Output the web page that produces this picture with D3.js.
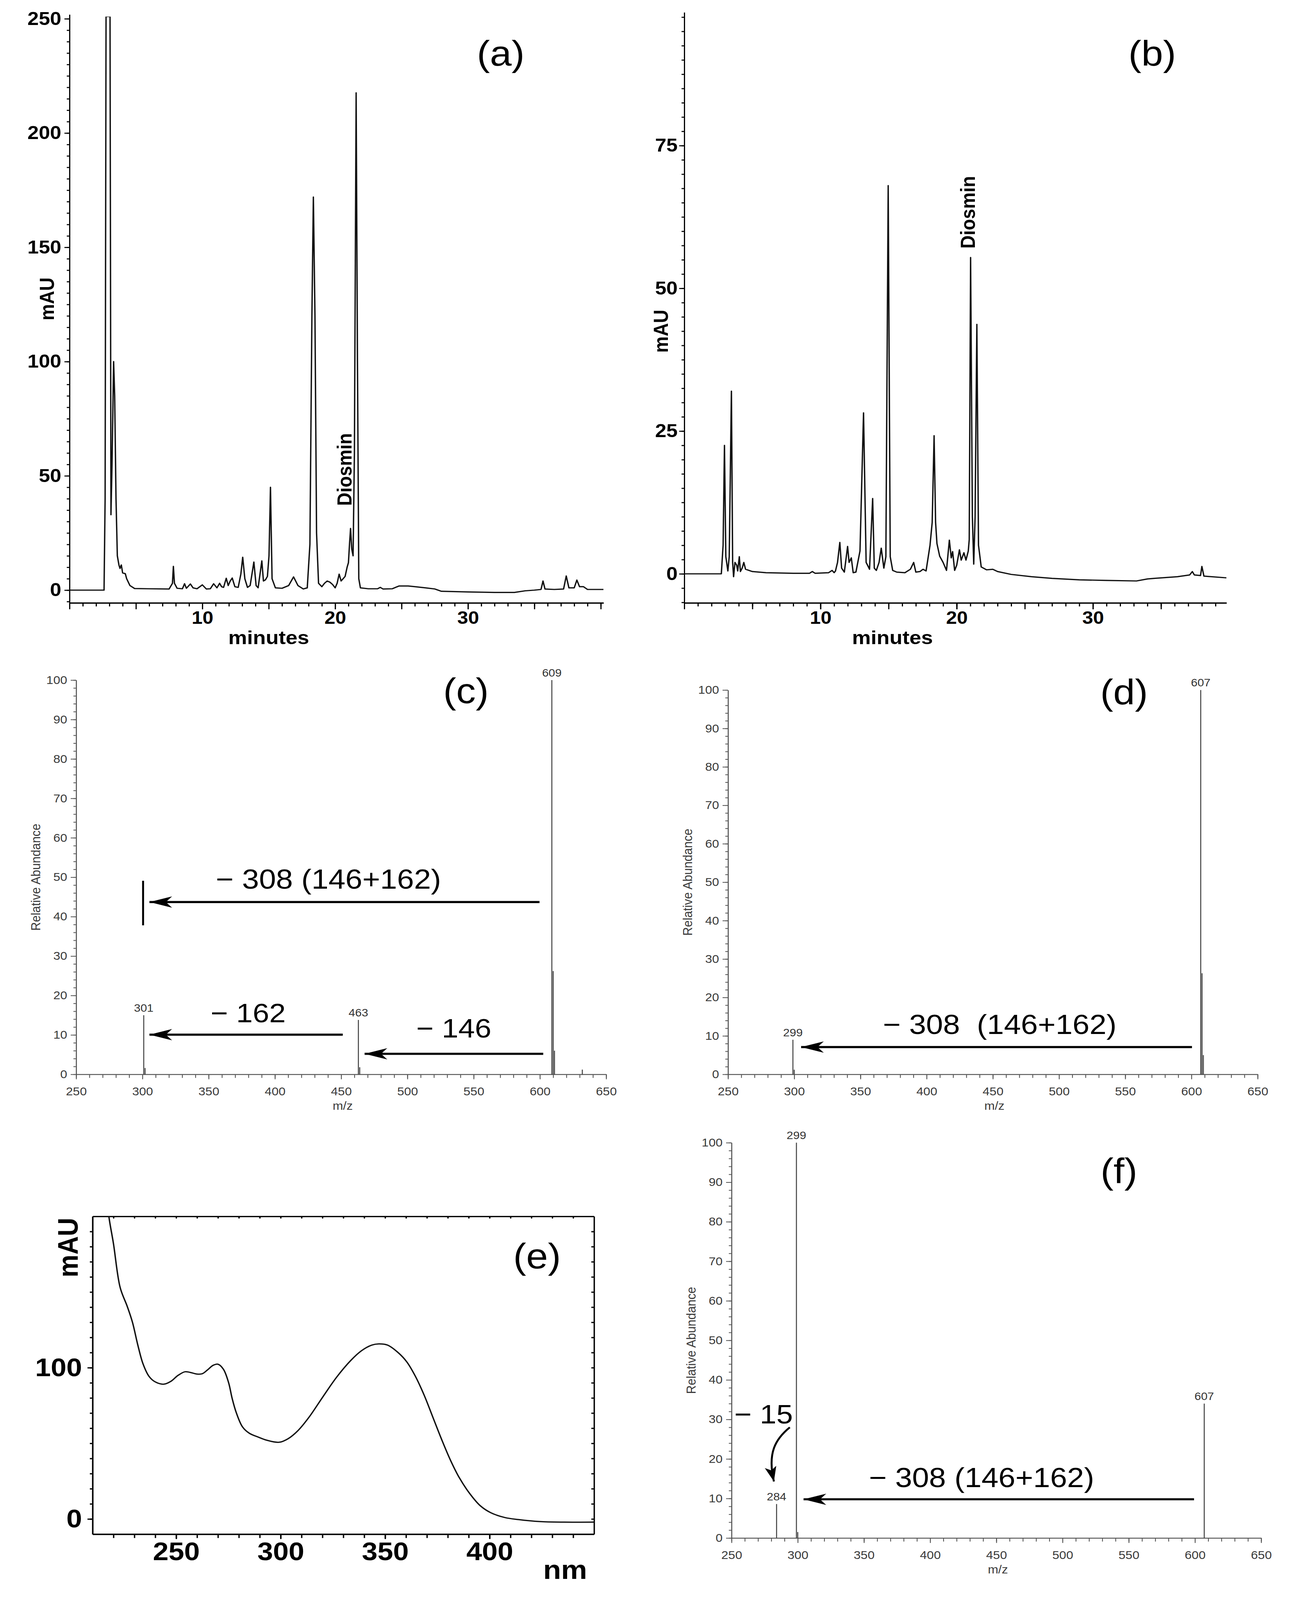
<!DOCTYPE html>
<html><head><meta charset="utf-8">
<script src="https://cdn.jsdelivr.net/npm/d3@7"></script>
<style>html,body{margin:0;padding:0;background:#fff;overflow:hidden}#fig{display:block;width:100vw;height:100vh}</style>
</head><body>
<svg id="fig" viewBox="0 0 3331 4517" preserveAspectRatio="none" xmlns="http://www.w3.org/2000/svg"></svg>
<script>
// ---------------- DATA ----------------
// (a) HPLC chromatogram, [minutes, mAU]
const traceA = [[0,0],[2.6,0],[2.68,40],[2.75,251],[3.05,251],[3.12,33],[3.2,55],[3.32,100],[3.4,85],[3.5,40],[3.6,15],[3.72,11],[3.8,9.5],[3.9,11],[4.0,7.5],[4.2,7.2],[4.3,5],[4.55,2],[4.9,0.7],[6,0.6],[7.5,0.5],[7.75,3],[7.82,10.4],[7.9,3],[8.1,0.8],[8.5,0.6],[8.66,2.8],[8.8,0.8],[9.1,2.7],[9.3,1],[9.6,0.6],[10,2.3],[10.3,0.5],[10.6,0.6],[10.85,2.8],[11.1,1],[11.3,3],[11.45,1.5],[11.6,1.2],[11.8,5.2],[11.95,2],[12.1,4],[12.25,5.3],[12.45,1.5],[12.7,1.2],[12.9,7],[13.04,14.4],[13.2,5],[13.4,1.2],[13.6,2],[13.88,12.3],[14.05,2],[14.2,1],[14.48,12.8],[14.6,4],[14.75,4.5],[14.9,6],[15.02,15],[15.13,45],[15.25,5],[15.5,1],[16,0.8],[16.5,2],[16.87,5.8],[17.2,2],[17.6,0.5],[17.9,1],[18.1,20],[18.25,120],[18.36,172],[18.48,120],[18.6,25],[18.75,3],[19.0,1.5],[19.2,3],[19.4,4],[19.6,3.5],[19.8,2.5],[20.0,1],[20.15,3],[20.3,7],[20.45,4],[20.6,5],[20.75,6],[20.9,10],[21.0,12],[21.08,20],[21.16,27],[21.25,18],[21.35,15],[21.45,60],[21.58,217.6],[21.68,100],[21.78,5],[21.9,1],[22.5,0.6],[23.2,0.6],[23.4,1.2],[23.6,0.5],[24.3,0.6],[24.8,1.8],[25.5,1.8],[26,1.5],[26.8,1],[27.5,0.5],[28,-0.5],[30,-0.8],[32,-1],[33.5,-1],[34.3,-0.3],[35,0],[35.5,0.3],[35.65,4],[35.8,0.5],[36.5,0.3],[37.2,0.5],[37.4,6.2],[37.6,1],[38.0,1],[38.2,4.4],[38.4,1.5],[38.7,1.5],[39,0.3],[40.2,0.3]];

// (b) HPLC chromatogram, [minutes, mAU]
const traceB = [[0,0],[2.72,0],[2.85,5],[2.95,22.5],[3.05,3],[3.2,0.5],[3.3,3],[3.46,32],[3.55,2],[3.62,-0.5],[3.72,2],[3.85,1.5],[3.92,0.5],[4.04,3],[4.12,0.4],[4.25,1],[4.37,2],[4.5,0.8],[5,0.4],[6,0.2],[8,0.1],[9.2,0.1],[9.4,0.4],[9.6,0.1],[10.6,0.2],[10.85,0.6],[11.0,0.2],[11.1,0.5],[11.25,2],[11.42,5.5],[11.55,1],[11.75,0.3],[11.99,4.8],[12.1,2],[12.26,2.8],[12.4,0.2],[12.6,0.3],[12.9,4],[13.16,28.2],[13.35,2],[13.5,1.3],[13.6,0.8],[13.83,13.2],[13.95,1],[14.1,0.6],[14.3,2],[14.46,4.5],[14.65,1],[14.8,3],[14.97,68],[15.12,3],[15.3,0.6],[15.6,0.3],[16.2,0.2],[16.6,0.8],[16.84,2],[17.0,0.3],[17.3,0.4],[17.53,0.8],[17.75,0.5],[18.04,5],[18.2,9],[18.34,24.2],[18.45,9],[18.55,5.3],[18.75,3.1],[19.0,2],[19.25,0.6],[19.46,5.9],[19.6,2.8],[19.7,3.9],[19.85,0.6],[20.0,1.5],[20.2,4.2],[20.33,2.4],[20.53,3.7],[20.68,2.4],[20.85,4.0],[20.92,6],[21.02,55.4],[21.15,10],[21.25,1.7],[21.35,10],[21.48,43.7],[21.6,5],[21.8,1.2],[22.2,0.7],[22.65,0.8],[23,0.4],[24,-0.1],[25.5,-0.5],[27,-0.8],[29,-1.05],[31,-1.15],[33.2,-1.25],[34,-0.9],[34.5,-0.8],[36.2,-0.5],[37.1,-0.2],[37.3,0.4],[37.45,-0.2],[37.9,-0.3],[38.0,1.3],[38.15,-0.4],[39.8,-0.7]];

// (e) UV spectrum, [nm, mAU]
const uvE = [[216.8,215],[217.8,200],[220,182],[223.2,153],[226.6,140.5],[229.1,130],[231.6,115.3],[234.1,102.7],[237,94.3],[240,90.6],[244.1,89.1],[247.5,91],[250.8,94.8],[254.2,97.3],[256.7,96.9],[260,95.8],[262.5,96],[265,98.5],[267.6,101.5],[270,102.3],[272.6,99],[275.1,90.1],[276.8,79.7],[278.8,70.2],[281.8,60.8],[285.1,56.6],[289.3,54.1],[293.5,52],[299.3,50.7],[303.5,53],[308.5,58.7],[313.5,67.1],[320.2,80.7],[326.9,93.9],[333.6,104.8],[338.6,111.1],[343.6,114.9],[347,115.7],[351.2,114.9],[356.2,110],[360.4,103.8],[364.5,94.3],[368.7,81.8],[372.9,67.1],[377.1,52.4],[381.3,38.8],[385.5,27.3],[390.5,16.8],[395.5,8.8],[400.5,4.2],[407.2,1],[413.9,-0.4],[423.9,-1.7],[435.6,-2.1],[450,-2.1]];

// Mass spectra, [m/z, relative abundance %]
const peaksC = [[301,15.0],[302,1.6],[463,13.8],[464,1.8],[609,100],[610,26.2],[611,6],[632,1.2]];
const peaksD = [[299,9.0],[300,1.2],[607,100],[608,26.3],[609,5]];
const peaksF = [[284,8.6],[299,100],[300,1.5],[607,34]];
const labelsC = [301,463,609];
const labelsD = [299,607];
const labelsF = [284,299,607];

// Tick labels
const ticksMinutes = [10,20,30];
const ticksA = [0,50,100,150,200,250];
const ticksB = [0,25,50,75];
const ticksMz = [250,300,350,400,450,500,550,600,650];
const ticksAbund = [0,10,20,30,40,50,60,70,80,90,100];
const ticksNm = [250,300,350,400];
const ticksE = [0,100];

// Annotations (data units)
const arrowsC = [{from:599.7,to:305.3,y:43.7},{from:451.2,to:305.3,y:10.06},{from:602.5,to:467.7,y:5.2}];
const barC = {mz:300.5,lo:37.8,hi:49.1};
const notesC = [{t:"\u2212 308 (146+162)",x:440.4,y:47.1,s:78},{t:"\u2212 162",x:379.8,y:13.2,s:76},{t:"\u2212 146",x:535,y:9.3,s:76}];
const arrowsD = [{from:600.4,to:305.2,y:7.1}];
const notesD = [{t:"\u2212 308\u00a0 (146+162)",x:455.2,y:10.5,s:78}];
const arrowsF = [{from:599.3,to:304.4,y:9.8}];
const notesF = [{t:"\u2212 308 (146+162)",x:438.8,y:12.9,s:78},{t:"\u2212 15",x:274.2,y:29.0,s:76}];
const curveF = [[294,28],[283,25],[277,21.5],[282,14.3]];

// ---------------- DRAW ----------------
const svg = d3.select('#fig');
svg.append('rect').attr('width',3331).attr('height',4517).attr('fill','#fff');
const defs = svg.append('defs');
defs.append('marker').attr('id','head').attr('markerUnits','userSpaceOnUse')
  .attr('viewBox','-60 -18 62 36').attr('refX',0).attr('refY',0)
  .attr('markerWidth',62).attr('markerHeight',36).attr('orient','auto')
  .append('path').attr('d','M0,0 L-58,-16 L-42,0 L-58,16 Z').attr('fill','#000');
defs.append('marker').attr('id','headS').attr('markerUnits','userSpaceOnUse')
  .attr('viewBox','-46 -17 48 34').attr('refX',0).attr('refY',0)
  .attr('markerWidth',48).attr('markerHeight',34).attr('orient','auto')
  .append('path').attr('d','M0,0 L-42,-15 L-32,0 L-42,15 Z').attr('fill','#000');

const SANS = "'Liberation Sans', Arial, Helvetica, sans-serif";

function styleAxis(sel, color, w, fs, bold){
  sel.attr('font-family', SANS).attr('font-size', fs).attr('font-weight', bold ? 'bold' : 'normal');
  sel.select('.domain').attr('stroke', color).attr('stroke-width', w);
  sel.selectAll('.tick line').attr('stroke', color).attr('stroke-width', w);
  sel.selectAll('.tick text').attr('fill', bold ? '#000' : '#3a3a3a');
}

function label(g, txt, x, y, fs, opts={}){
  const t = g.append('text').attr('x',x).attr('y',y).text(txt)
    .attr('font-family',SANS).attr('font-size',fs)
    .attr('font-weight',opts.bold?'bold':'normal')
    .attr('fill',opts.fill||'#000')
    .attr('text-anchor',opts.anchor||'middle');
  if(opts.rotate) t.attr('transform',`rotate(-90,${x},${y})`);
  if(opts.dy) t.attr('dy',opts.dy);
  return t;
}

// ---- chromatogram ----
function chrom(cfg){
  const g = svg.append('g');
  const x = d3.scaleLinear().domain(cfg.xDomain).range(cfg.xRange);
  const y = d3.scaleLinear().domain(cfg.yDomain).range(cfg.yRange);
  const yAx = y.copy().domain([y.invert(cfg.axisY), y.invert(cfg.topY)]).range([cfg.axisY, cfg.topY]);
  const [y0, y1] = yAx.domain();
  const minorY = d3.range(Math.ceil(y0/cfg.yMinorStep)*cfg.yMinorStep, y1, cfg.yMinorStep);
  g.append('g').attr('transform',`translate(${cfg.xRange[0]},0)`)
    .call(d3.axisLeft(yAx).tickValues(minorY).tickSize(7).tickSizeOuter(0).tickFormat(''))
    .call(s=>styleAxis(s,'#000',3,52,true));
  g.append('g').attr('transform',`translate(${cfg.xRange[0]},0)`)
    .call(d3.axisLeft(yAx).tickValues(cfg.yTicks).tickSize(13).tickSizeOuter(0).tickPadding(cfg.yPad))
    .call(s=>styleAxis(s,'#000',3,52,true));
  const minorX = d3.range(0, cfg.xDomain[1], 1);
  const midX = d3.range(0, cfg.xDomain[1], 5);
  g.append('g').attr('transform',`translate(0,${cfg.axisY})`)
    .call(d3.axisBottom(x).tickValues(minorX).tickSize(10).tickSizeOuter(0).tickFormat(''))
    .call(s=>styleAxis(s,'#000',3,50,true));
  g.append('g').attr('transform',`translate(0,${cfg.axisY})`)
    .call(d3.axisBottom(x).tickValues(midX).tickSize(18).tickSizeOuter(0).tickFormat(''))
    .call(s=>styleAxis(s,'#000',3,50,true));
  g.append('g').attr('transform',`translate(0,${cfg.axisY})`)
    .call(d3.axisBottom(x).tickValues(ticksMinutes).tickSize(18).tickSizeOuter(0).tickPadding(6))
    .call(s=>styleAxis(s,'#000',3,50,true));
  const cid = 'clip'+cfg.id;
  defs.append('clipPath').attr('id',cid).append('rect')
    .attr('x',cfg.xRange[0]).attr('y',cfg.topY+6).attr('width',cfg.xRange[1]-cfg.xRange[0]).attr('height',cfg.axisY-cfg.topY);
  g.append('path').datum(cfg.data).attr('clip-path',`url(#${cid})`)
    .attr('fill','none').attr('stroke','#111').attr('stroke-width',3.5).attr('stroke-linejoin','round')
    .attr('d', d3.line().x(d=>x(d[0])).y(d=>y(d[1])));
  label(g,'mAU',cfg.mauX,cfg.mauY,52,{bold:true,rotate:true,dy:'0.35em'});
  label(g,'minutes',cfg.minX,1818,54,{bold:true});
  label(g,'Diosmin',cfg.dioX,cfg.dioY,52,{bold:true,rotate:true,dy:'0.35em',anchor:'start'});
  label(g,cfg.tag,cfg.tagX,185,100);
  return {x,y};
}

chrom({id:'a',data:traceA,xDomain:[0,40.2],xRange:[178,1545],yDomain:[0,250],yRange:[1666,53],
  axisY:1702,topY:41,yMinorStep:5,yTicks:ticksA,yPad:8,mauX:120,mauY:844,minX:688,dioX:882,dioY:1428,tag:'(a)',tagX:1282});
chrom({id:'b',data:traceB,xDomain:[0,39.8],xRange:[1752,3140],yDomain:[0,75],yRange:[1620,411],
  axisY:1702,topY:35,yMinorStep:2.5,yTicks:ticksB,yPad:4,mauX:1692,mauY:935,minX:2285,dioX:2478,dioY:702,tag:'(b)',tagX:2950});

// ---- mass spectra ----
function ms(cfg){
  const g = svg.append('g');
  const x = d3.scaleLinear().domain([250,650]).range(cfg.xRange);
  const y = d3.scaleLinear().domain([0,100]).range(cfg.yRange);
  const col = '#555';
  g.append('g').attr('transform',`translate(${cfg.xRange[0]},0)`)
    .call(d3.axisLeft(y).tickValues(d3.range(0,100.1,2)).tickSize(7).tickSizeOuter(0).tickFormat(''))
    .call(s=>styleAxis(s,col,2.2,32,false));
  g.append('g').attr('transform',`translate(${cfg.xRange[0]},0)`)
    .call(d3.axisLeft(y).tickValues(ticksAbund).tickSize(14).tickSizeOuter(0).tickPadding(9))
    .call(s=>styleAxis(s,col,2.2,32,false));
  g.append('g').attr('transform',`translate(0,${cfg.yRange[0]})`)
    .call(d3.axisBottom(x).tickValues(d3.range(250,650.1,10)).tickSize(10).tickSizeOuter(0).tickFormat(''))
    .call(s=>styleAxis(s,col,2.2,32,false));
  g.append('g').attr('transform',`translate(0,${cfg.yRange[0]})`)
    .call(d3.axisBottom(x).tickValues(ticksMz).tickSize(14).tickSizeOuter(0).tickPadding(22))
    .call(s=>styleAxis(s,col,2.2,32,false));
  g.selectAll('line.pk').data(cfg.peaks).join('line').attr('class','pk')
    .attr('x1',d=>x(d[0])).attr('x2',d=>x(d[0])).attr('y1',y(0)).attr('y2',d=>y(d[1]))
    .attr('stroke','#444').attr('stroke-width',2.6);
  cfg.labels.forEach(m=>{
    const p = cfg.peaks.find(d=>d[0]===m);
    label(g,String(m),x(m),y(p[1])-10,30,{fill:'#333'});
  });
  label(g,'Relative Abundance',cfg.xRange[0]-104,(cfg.yRange[0]+cfg.yRange[1])/2,34,{rotate:true,dy:'0.35em',fill:'#3a3a3a'});
  label(g,'m/z',(cfg.xRange[0]+cfg.xRange[1])/2 + 4,cfg.yRange[0]+100,32,{fill:'#3a3a3a'});
  cfg.arrows.forEach(a=>{
    g.append('line').attr('x1',x(a.from)).attr('x2',x(a.to)).attr('y1',y(a.y)).attr('y2',y(a.y))
      .attr('stroke','#000').attr('stroke-width',6).attr('marker-end','url(#head)');
  });
  cfg.notes.forEach(n=>{
    label(g,n.t,x(n.x),y(n.y),n.s,{}).style('white-space','pre');
  });
  label(g,cfg.tag,cfg.tagX,cfg.tagY,100);
  return {g,x,y};
}

const C = ms({xRange:[195,1552],yRange:[3033,1920],peaks:peaksC,labels:labelsC,arrows:arrowsC,notes:notesC,tag:'(c)',tagX:1193,tagY:1985});
C.g.append('line').attr('x1',C.x(barC.mz)).attr('x2',C.x(barC.mz)).attr('y1',C.y(barC.lo)).attr('y2',C.y(barC.hi))
  .attr('stroke','#000').attr('stroke-width',5);
ms({xRange:[1864,3220],yRange:[3033,1948],peaks:peaksD,labels:labelsD,arrows:arrowsD,notes:notesD,tag:'(d)',tagX:2878,tagY:1988});
const F = ms({xRange:[1873,3229],yRange:[4342,3226],peaks:peaksF,labels:labelsF,arrows:arrowsF,notes:notesF,tag:'(f)',tagX:2865,tagY:3340});
F.g.append('path').datum(curveF)
  .attr('d', d=>`M${F.x(d[0][0])},${F.y(d[0][1])} C${F.x(d[1][0])},${F.y(d[1][1])} ${F.x(d[2][0])},${F.y(d[2][1])} ${F.x(d[3][0])},${F.y(d[3][1])}`)
  .attr('fill','none').attr('stroke','#000').attr('stroke-width',5).attr('marker-end','url(#headS)');

// ---- (e) UV spectrum ----
(function(){
  const g = svg.append('g');
  const x = d3.scaleLinear().domain([210,450]).range([237,1521]);
  const y = d3.scaleLinear().domain([-10,200]).range([4331,3434]);
  const bot = 4331, top = 3434, left = 237, right = 1521;
  g.append('g').attr('transform',`translate(0,${top})`)
    .call(d3.axisTop(x).tickValues(d3.range(220,450,10)).tickSize(-6).tickSizeOuter(0).tickFormat(''))
    .call(s=>styleAxis(s,'#000',3.5,72,true));
  g.append('g').attr('transform',`translate(${right},0)`)
    .call(d3.axisRight(y).tickValues(d3.range(0,200,10)).tickSize(-7).tickSizeOuter(0).tickFormat(''))
    .call(s=>styleAxis(s,'#000',3.5,72,true));
  g.append('g').attr('transform',`translate(${left},0)`)
    .call(d3.axisLeft(y).tickValues(d3.range(0,200,10)).tickSize(7).tickSizeOuter(0).tickFormat(''))
    .call(s=>styleAxis(s,'#000',3.5,72,true));
  g.append('g').attr('transform',`translate(${left},0)`)
    .call(d3.axisLeft(y).tickValues(ticksE).tickSize(13).tickSizeOuter(0).tickPadding(14))
    .call(s=>styleAxis(s,'#000',3.5,72,true));
  g.append('g').attr('transform',`translate(0,${bot})`)
    .call(d3.axisBottom(x).tickValues(d3.range(220,450,10)).tickSize(11).tickSizeOuter(0).tickFormat(''))
    .call(s=>styleAxis(s,'#000',3.5,72,true));
  g.append('g').attr('transform',`translate(0,${bot})`)
    .call(d3.axisBottom(x).tickValues(ticksNm).tickSize(14).tickSizeOuter(0).tickPadding(8))
    .call(s=>styleAxis(s,'#000',3.5,72,true));
  defs.append('clipPath').attr('id','clipE').append('rect').attr('x',left).attr('y',top).attr('width',right-left).attr('height',bot-top);
  g.append('path').datum(uvE).attr('clip-path','url(#clipE)')
    .attr('fill','none').attr('stroke','#111').attr('stroke-width',3.6)
    .attr('d', d3.line().x(d=>x(d[0])).y(d=>y(d[1])).curve(d3.curveCatmullRom.alpha(0.5)));
  label(g,'mAU',174,3438,72,{bold:true,rotate:true,dy:'0.35em',anchor:'end'});
  label(g,'nm',1447,4457,75,{bold:true});
  label(g,'(e)',1375,3581,100);
})();
</script>
</body></html>
